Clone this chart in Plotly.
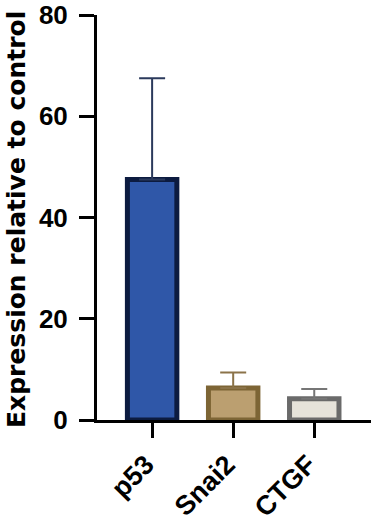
import plotly.graph_objects as go

genes = ["p53", "Snai2", "CTGF"]
means = [47.5, 6.3, 4.2]
errors_up = [20.0, 3.1, 1.9]
y_ticks = [0, 20, 40, 60, 80]

fills = ["#2f57a8", "#bb9f70", "#e6e3da"]
borders = ["#0c1b40", "#7d6535", "#6a6a6a"]
err_colors = ["#2b3a5c", "#8b7349", "#767676"]

fig = go.Figure()
for g, m, e, fc, bc, ec in zip(genes, means, errors_up, fills, borders, err_colors):
    fig.add_trace(go.Bar(
        x=[g], y=[m], width=0.61,
        marker=dict(color=fc, line=dict(color=bc, width=5)),
        error_y=dict(type="data", array=[e], arrayminus=[0], symmetric=False,
                     color=ec, thickness=2, width=13),
        showlegend=False,
    ))

tick_font = dict(family="Liberation Sans, Arial, sans-serif", size=26, color="black", weight="bold")

fig.update_layout(
    width=383, height=523,
    margin=dict(l=97, r=12, t=15, b=103, autoexpand=False),
    plot_bgcolor="white", paper_bgcolor="white",
    barmode="overlay",
    xaxis=dict(
        range=[-0.68, 2.70], showline=True, linecolor="black", linewidth=3,
        ticks="outside", ticklen=15, tickwidth=3, tickcolor="black",
        tickangle=-45, tickfont=dict(family="Liberation Sans, Arial, sans-serif", size=27, color="black", weight="bold"),
        showgrid=False, zeroline=False, automargin=False, ticklabelshift=-6,
    ),
    yaxis=dict(
        range=[0, 80], tickvals=y_ticks, showline=True, linecolor="black", linewidth=3,
        ticks="outside", ticklen=15, tickwidth=3, tickcolor="black",
        tickfont=tick_font, showgrid=False, zeroline=False, ticklabelstandoff=6,
        automargin=False,
    ),
    annotations=[dict(
        text="Expression relative to control", textangle=-90,
        xref="paper", yref="paper", x=-0.296, y=0.496, xanchor="center", yanchor="middle",
        showarrow=False,
        font=dict(family="DejaVu Sans", size=25, color="black", weight="bold"),
    )],
)

fig.write_html(
    "out.html",
    config={"displayModeBar": False},
    post_script="document.body.style.margin='0';document.body.style.overflow='hidden';",
)
